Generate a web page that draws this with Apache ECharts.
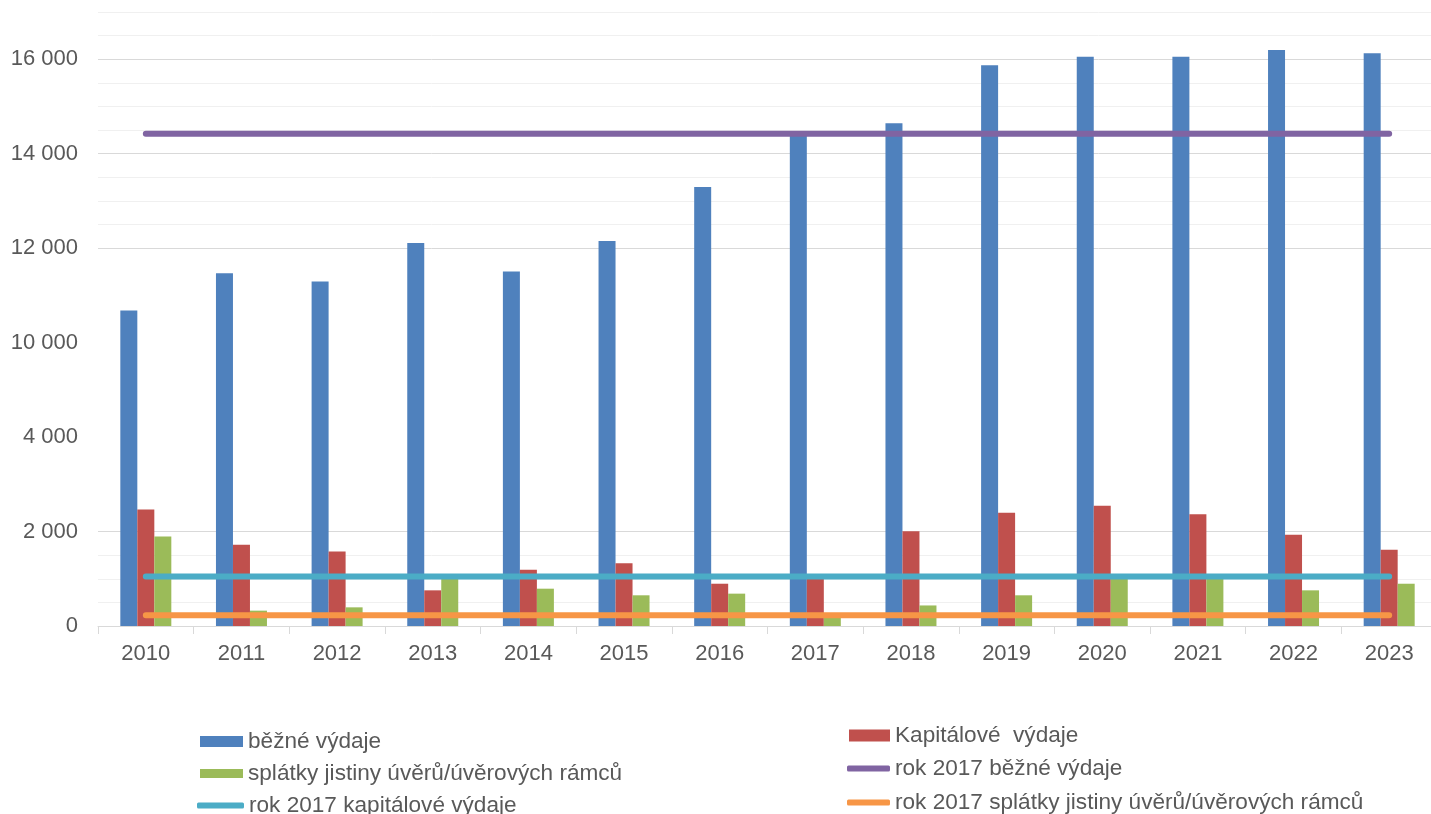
<!DOCTYPE html>
<html><head><meta charset="utf-8">
<script src="https://cdn.jsdelivr.net/npm/echarts@6/dist/echarts.min.js"></script>
<style>html,body{margin:0;padding:0;background:#fff}#c{width:1431px;height:814px}</style>
</head><body><div id="c"></div>
<script>
const years = ['2010','2011','2012','2013','2014','2015','2016','2017','2018','2019','2020','2021','2022','2023'];
const bezneVydaje = [10680, 11470, 11295, 12110, 11505, 12150, 13295, 14420, 14645, 15870, 16050, 16050, 16195, 16125];
const kapitaloveVydaje = [2465, 1720, 1580, 755, 1190, 1330, 895, 1050, 2005, 2400, 2545, 2365, 1930, 1615];
const splatkyJistiny = [1895, 325, 395, 1020, 790, 650, 685, 230, 435, 650, 1030, 1010, 755, 895];
const rok2017Bezne = [14420, 14420, 14420, 14420, 14420, 14420, 14420, 14420, 14420, 14420, 14420, 14420, 14420, 14420];
const rok2017Kapitalove = [1050, 1050, 1050, 1050, 1050, 1050, 1050, 1050, 1050, 1050, 1050, 1050, 1050, 1050];
const rok2017Splatky = [230, 230, 230, 230, 230, 230, 230, 230, 230, 230, 230, 230, 230, 230];
const seriesNames = ['běžné výdaje', 'Kapitálové  výdaje', 'splátky jistiny úvěrů/úvěrových rámců',
  'rok 2017 běžné výdaje', 'rok 2017 kapitálové výdaje', 'rok 2017 splátky jistiny úvěrů/úvěrových rámců'];
const yBreak = {start: 4000, end: 10000};

const FONT = "'Liberation Sans', Arial, sans-serif";
const TXT = '#595959';
const colors = ['#4F81BD', '#C0504D', '#9BBB59', '#8064A2', '#4BACC6', '#F79646'];

function fmt(v) {
  if (v === 0) return '0';
  return Math.floor(v / 1000) + ' ' + String(v % 1000).padStart(3, '0');
}

function legend(name, left, cy, w, h, icon) {
  return {
    data: [name], left: left, top: cy - 11, padding: 0, itemWidth: w, itemHeight: h,
    icon: icon, selectedMode: false,
    textStyle: {fontFamily: FONT, fontSize: 22.6, color: TXT, lineHeight: 22}
  };
}

const chart = echarts.init(document.getElementById('c'));
chart.setOption({
  animation: false,
  backgroundColor: '#fff',
  color: colors,
  grid: {left: 98, top: 12, width: 1339, height: 614, outerBoundsMode: 'none', containLabel: false},
  legend: [
    legend(seriesNames[0], 200, 741, 43, 11, 'rect'),
    legend(seriesNames[2], 200, 773, 43, 9, 'rect'),
    legend(seriesNames[4], 197, 805, 47, 6, 'roundRect'),
    legend(seriesNames[1], 849, 735, 41, 12, 'rect'),
    legend(seriesNames[3], 847, 768, 43, 6, 'roundRect'),
    legend(seriesNames[5], 847, 802, 43, 6, 'roundRect')
  ],
  xAxis: {
    type: 'category', data: years, boundaryGap: true,
    axisLine: {lineStyle: {color: '#d9d9d9', width: 1}},
    axisTick: {show: true, length: 8, interval: 0, lineStyle: {color: '#d9d9d9'}},
    axisLabel: {fontFamily: FONT, fontSize: 22, color: TXT, margin: 17, interval: 0}
  },
  yAxis: {
    type: 'value', min: 0, max: 17000, interval: 2000,
    breaks: [{start: yBreak.start, end: yBreak.end, gap: 2000}],
    breakArea: {show: false, expandOnClick: false, itemStyle: {opacity: 0}},
    axisLine: {show: false}, axisTick: {show: false},
    axisLabel: {fontFamily: FONT, fontSize: 22, color: TXT, margin: 20, formatter: fmt, showMaxLabel: false, padding: [4, 0, 0, 0]},
    splitLine: {show: true, showMaxLine: false, lineStyle: {color: '#d9d9d9', width: 1}},
    minorTick: {show: false, splitNumber: 4},
    minorSplitLine: {show: true, lineStyle: {color: '#f0f0f0', width: 1}}
  },
  series: [
    {name: seriesNames[0], type: 'bar', data: bezneVydaje, barWidth: 17, barGap: '0%', z: 2,
     markLine: {silent: true, symbol: 'none', label: {show: false}, lineStyle: {color: '#f0f0f0', width: 1, type: 'solid'}, data: [{yAxis: 17000}]}},
    {name: seriesNames[1], type: 'bar', data: kapitaloveVydaje, barWidth: 17, barGap: '0%', z: 2},
    {name: seriesNames[2], type: 'bar', data: splatkyJistiny, barWidth: 17, barGap: '0%', z: 2},
    {name: seriesNames[3], type: 'line', data: rok2017Bezne, showSymbol: false, symbol: 'none', z: 5,
     lineStyle: {width: 6, cap: 'round', color: colors[3]}},
    {name: seriesNames[4], type: 'line', data: rok2017Kapitalove, showSymbol: false, symbol: 'none', z: 5,
     lineStyle: {width: 6, cap: 'round', color: colors[4]}},
    {name: seriesNames[5], type: 'line', data: rok2017Splatky, showSymbol: false, symbol: 'none', z: 5,
     lineStyle: {width: 6, cap: 'round', color: colors[5]}}
  ]
});
</script></body></html>
